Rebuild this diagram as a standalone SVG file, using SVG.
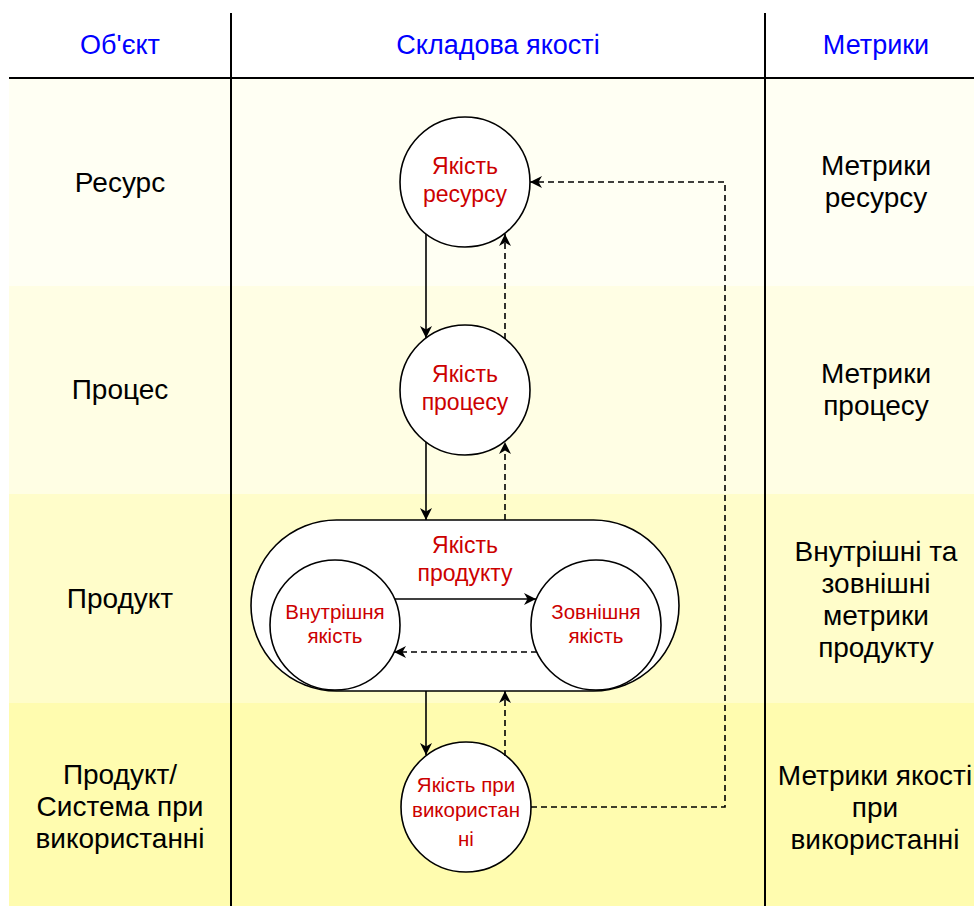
<svg xmlns="http://www.w3.org/2000/svg" width="974" height="906" viewBox="0 0 974 906">
<style>
.hdr{font-family:"Liberation Sans",Arial,sans-serif;font-size:27px;fill:#0000FF;text-anchor:middle}
.lbl{font-family:"Liberation Sans",Arial,sans-serif;font-size:28px;fill:#000;text-anchor:middle}
.q{font-family:"Liberation Sans",Arial,sans-serif;font-size:23px;fill:#CC0000;text-anchor:middle}
.qs{font-family:"Liberation Sans",Arial,sans-serif;font-size:20.5px;fill:#CC0000;text-anchor:middle}
.node{fill:#FFFFFF;stroke:#000;stroke-width:1.6}
.solid{fill:none;stroke:#000;stroke-width:1.6;marker-end:url(#arr)}
.dash{fill:none;stroke:#000;stroke-width:1.6;stroke-dasharray:6 4;marker-end:url(#arr)}
.grid{stroke:#000;stroke-width:2;fill:none}
</style>
<defs>
<marker id="arr" markerUnits="userSpaceOnUse" markerWidth="13" markerHeight="12" refX="12" refY="6" orient="auto" viewBox="0 0 13 12">
<path d="M0,0 L12,6 L0,12 L3.5,6 Z" fill="#000"/>
</marker>
</defs>
<rect width="974" height="906" fill="#FFFFFF"/>
<g id="bands">
<rect x="9" y="78" width="965" height="208" fill="#FFFFF3"/>
<rect x="9" y="286" width="965" height="208" fill="#FFFEE4"/>
<rect x="9" y="494" width="965" height="209" fill="#FFFDCA"/>
<rect x="9" y="703" width="965" height="203" fill="#FFFCAF"/>
</g>
<g id="grid">
<line class="grid" x1="9" y1="78" x2="974" y2="78"/>
<line class="grid" x1="231" y1="13" x2="231" y2="906"/>
<line class="grid" x1="765" y1="13" x2="765" y2="906"/>
</g>
<g id="headers">
<text class="hdr" x="120" y="54">Об'єкт</text>
<text class="hdr" x="498" y="54">Складова якості</text>
<text class="hdr" x="876" y="54">Метрики</text>
</g>
<g id="objects">
<text class="lbl" x="120" y="192">Ресурс</text>
<text class="lbl" x="120" y="399">Процес</text>
<text class="lbl" x="120" y="608">Продукт</text>
<text class="lbl" x="120" y="784">Продукт/</text>
<text class="lbl" x="120" y="816">Система при</text>
<text class="lbl" x="120" y="848">використанні</text>
</g>
<g id="metrics">
<text class="lbl" x="876" y="175">Метрики</text>
<text class="lbl" x="876" y="207">ресурсу</text>
<text class="lbl" x="876" y="383">Метрики</text>
<text class="lbl" x="876" y="415">процесу</text>
<text class="lbl" x="876" y="561">Внутрішні та</text>
<text class="lbl" x="876" y="593">зовнішні</text>
<text class="lbl" x="876" y="625">метрики</text>
<text class="lbl" x="876" y="657">продукту</text>
<text class="lbl" x="875" y="785">Метрики якості</text>
<text class="lbl" x="875" y="817">при</text>
<text class="lbl" x="875" y="849">використанні</text>
</g>
<g id="resource-quality">
<circle class="node" cx="465" cy="182" r="65"/>
<text class="q" x="465" y="174">Якість</text>
<text class="q" x="465" y="202">ресурсу</text>
</g>
<g id="process-quality">
<circle class="node" cx="465" cy="390" r="65"/>
<text class="q" x="465" y="382">Якість</text>
<text class="q" x="465" y="410">процесу</text>
</g>
<g id="product-quality">
<rect class="node" x="251" y="520" width="428" height="171" rx="85.5" ry="85.5"/>
<text class="q" x="465" y="553">Якість</text>
<text class="q" x="465" y="581">продукту</text>
</g>
<g id="internal-quality">
<circle class="node" cx="335" cy="625" r="65"/>
<text class="qs" x="335" y="619">Внутрішня</text>
<text class="qs" x="335" y="643">якість</text>
</g>
<g id="external-quality">
<circle class="node" cx="596" cy="625" r="65"/>
<text class="qs" x="596" y="619">Зовнішня</text>
<text class="qs" x="596" y="643">якість</text>
</g>
<g id="in-use-quality">
<circle class="node" cx="466" cy="807" r="65"/>
<text class="qs" x="466" y="792">Якість при</text>
<text class="qs" x="466" y="817">використан</text>
<text class="qs" x="466" y="846">ні</text>
</g>
<g id="connectors">
<path class="solid" d="M426,234 L426,338"/>
<path class="dash" d="M505,339 L505,234"/>
<path class="solid" d="M426,442 L426,520"/>
<path class="dash" d="M505,520 L505,442"/>
<path class="solid" d="M395,599 L536,599"/>
<path class="dash" d="M537,652 L394,652"/>
<path class="solid" d="M426,691 L426,755"/>
<path class="dash" d="M505,756 L505,691"/>
<path class="dash" d="M531,807 L725,807 L725,182 L530,182"/>
</g>
</svg>
